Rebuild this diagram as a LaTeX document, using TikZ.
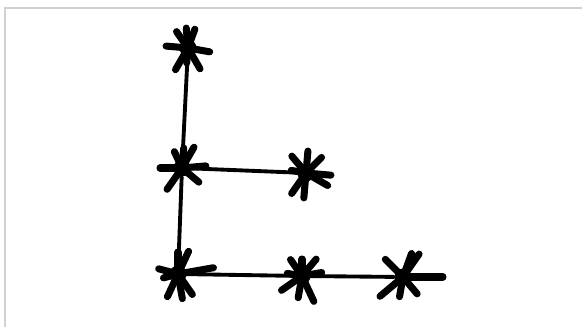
\documentclass[tikz,border=0pt]{standalone}
\usepackage{tikz}

\begin{document}
\begin{tikzpicture}[x=0.02cm, y=-0.02cm,
  hub/.style={circle, fill=black, inner sep=0pt, minimum size=0.34cm},
  link/.style={black, line width=2.2pt, line cap=round},
  spoke/.style={black, line width=4pt, line cap=round}]
  \useasboundingbox (0,0) rectangle (582,327);
  \draw[black!18, line width=1.6pt] (5,327) -- (5,8) -- (582,8);
  % star centres
  \node[hub] (top)  at (188,48)  {};
  \node[hub] (mid)  at (182,168) {};
  \node[hub] (side) at (306,173) {};
  \node[hub] (base) at (178,274) {};
  \node[hub] (bmid) at (302,276) {};
  \node[hub] (bend) at (403,277) {};
  % connectors
  \draw[link] (top) -- (mid);
  \draw[link] (mid) -- (base);
  \draw[link] (mid) -- (side);
  \draw[link] (base) -- (bmid);
  \draw[link] (bmid) -- (bend);
  % spokes
  \foreach \a/\l in {10/22, 290/20, 265/20, 235/20, 185/22, 120/25, 60/24, 95/15}
    \draw[spoke] (top.center) -- ++(\a:\l);
  \foreach \a/\l in {180/22, 355/24, 300/24, 245/18, 125/26, 40/22, 275/20}
    \draw[spoke] (mid.center) -- ++(\a:\l);
  \foreach \a/\l in {5/25, 315/22, 275/22, 230/22, 190/15, 30/25, 95/25, 125/25}
    \draw[spoke] (side.center) -- ++(\a:\l);
  \foreach \a/\l in {195/20, 270/22, 295/25, 350/36, 115/25, 80/25, 55/25, 165/15}
    \draw[spoke] (base.center) -- ++(\a:\l);
  \foreach \a/\l in {235/20, 270/17, 310/22, 145/25, 100/22, 65/28, 190/15, 350/20}
    \draw[spoke] (bmid.center) -- ++(\a:\l);
  \foreach \a/\l in {225/25, 290/25, 305/28, 0/40, 140/30, 100/20, 50/22}
    \draw[spoke] (bend.center) -- ++(\a:\l);
\end{tikzpicture}
\end{document}
